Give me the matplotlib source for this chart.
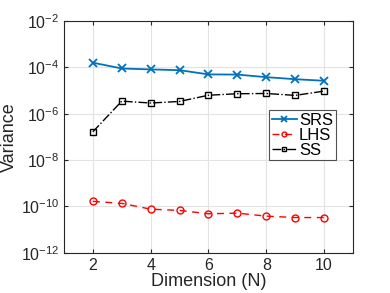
import matplotlib
matplotlib.use("Agg")
import matplotlib.pyplot as plt
from matplotlib.ticker import LogLocator, NullLocator

plt.rcParams['font.family'] = ['Liberation Sans', 'DejaVu Sans']

# Dati
dim = [2, 3, 4, 5, 6, 7, 8, 9, 10]
var_srs = [1.6e-4, 9.0e-5, 8.2e-5, 7.6e-5, 5.0e-5, 4.9e-5, 3.8e-5, 3.1e-5, 2.65e-5]
var_lhs = [1.65e-10, 1.35e-10, 7.6e-11, 6.7e-11, 4.8e-11, 5.1e-11, 3.8e-11, 3.3e-11, 3.3e-11]
var_ss = [1.66e-7, 3.5e-6, 2.9e-6, 3.4e-6, 6.3e-6, 7.3e-6, 7.5e-6, 6.2e-6, 9.5e-6]

x_ticks = [2, 4, 6, 8, 10]

fig = plt.figure(figsize=(3.9, 2.93), dpi=100)
ax = fig.add_axes([0.164, 0.1375, 0.741, 0.7905])

ax.plot(dim, var_srs, color='#0072BD', ls='-', marker='x', ms=6, mew=1.3,
        lw=1.3, label='SRS')
ax.plot(dim, var_lhs, color='#FF0000', ls=(0, (5, 4)), marker='o', ms=5,
        mfc='none', mew=1.0, lw=1.0, label='LHS')
ax.plot(dim, var_ss, color='black', ls='-.', marker='s', ms=5,
        mfc='none', mew=1.0, lw=1.0, label='SS')

ax.set_yscale('log')
ax.set_ylim(1e-12, 1e-2)
ax.set_xlim(1, 11)
ax.set_xticks(x_ticks)
ax.yaxis.set_major_locator(LogLocator(base=100.0))
ax.yaxis.set_minor_locator(NullLocator())

ax.grid(True, color='#e3e3e3', lw=0.8)
ax.set_axisbelow(True)
ax.tick_params(direction='in', top=True, right=True, labelsize=11.5,
               length=3, colors='#262626', labelcolor='#262626')
for s in ax.spines.values():
    s.set_color('#262626')
    s.set_linewidth(0.8)

ax.set_xlabel('Dimension (N)', fontsize=13, color='#262626', labelpad=0)
ax.set_ylabel('Variance', fontsize=13, color='#262626', labelpad=2)

leg = ax.legend(loc='upper right', bbox_to_anchor=(0.94, 0.615), fontsize=12,
                frameon=True, fancybox=False, edgecolor='#262626',
                handlelength=1.5, handletextpad=0.15, borderpad=0.15,
                labelspacing=0.0, markerscale=0.7, borderaxespad=0)
leg.get_frame().set_linewidth(0.8)

fig.savefig('out.png', dpi=100)
